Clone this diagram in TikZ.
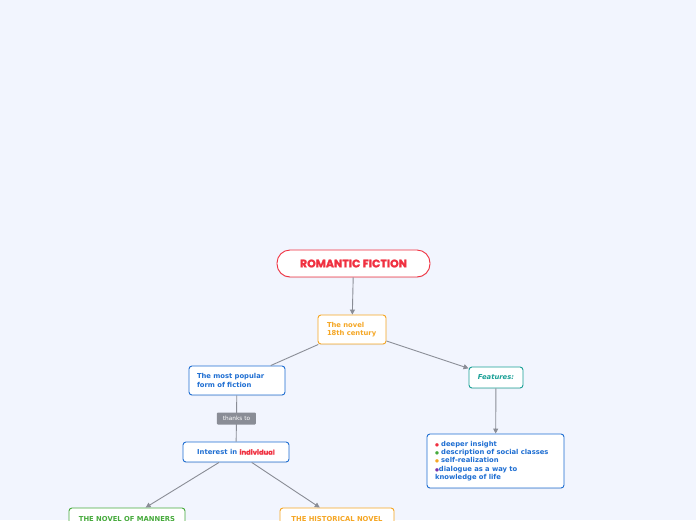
\documentclass[tikz,border=0pt]{standalone}
\usepackage{fontspec}
\setmainfont{DejaVu Sans}
\newfontfamily\titlefont{Poppins}[BoldFeatures={FakeBold=1.6}]
\usetikzlibrary{arrows.meta, shadows}

\definecolor{bgcol}{RGB}{242,245,254}
\definecolor{linkgrey}{RGB}{138,141,150}
\definecolor{mmred}{RGB}{240,48,64}
\definecolor{mmorange}{RGB}{245,166,35}
\definecolor{mmblue}{RGB}{30,110,210}
\definecolor{mmteal}{RGB}{25,160,150}
\definecolor{mmgreen}{RGB}{70,170,60}
\definecolor{mmpurple}{RGB}{120,50,170}

\newcommand{\dotb}[1]{{\color{#1}\fontsize{4.5}{4}\selectfont ●}}

\begin{document}
\begin{tikzpicture}[x=1pt, y=-1pt,
    topic/.style={draw, fill=white, line width=0.9pt, rounded corners=3pt,
        font=\fontsize{6.8}{8.4}\selectfont\bfseries, inner sep=0pt,
        drop shadow={opacity=0.12, shadow xshift=0pt, shadow yshift=-1pt}},
    link/.style={draw=linkgrey, line width=0.9pt},
    arrowlink/.style={link, -{Triangle[length=5pt, width=5pt]}},
    linklabel/.style={fill=linkgrey, text=white, rounded corners=1pt, inner sep=0pt,
        minimum width=39pt, minimum height=12pt, font=\fontsize{5.8}{6}\selectfont}]
    \fill[bgcol] (0,0) rectangle (696,520);
    \useasboundingbox (0,0) rectangle (696,520);
    \clip (0,0) rectangle (696,520);

    \node[topic, draw=mmred, text=mmred, rounded corners=13pt, minimum width=153pt,
        minimum height=27pt, font=\titlefont\fontsize{11}{13}\selectfont\bfseries]
        (title) at (353.5,263.5) {ROMANTIC FICTION};
    \node[topic, draw=mmorange, text=mmorange, minimum width=68pt, minimum height=29pt,
        text width=50pt, align=left] (novel) at (352,329.5) {The novel\\18th century};
    \node[topic, draw=mmblue, text=mmblue, minimum width=96pt, minimum height=29pt,
        text width=80pt, align=left] (popular) at (237,380.5) {The most popular\\form of fiction};
    \node[topic, draw=mmblue, text=mmblue, minimum width=106pt, minimum height=20pt]
        (interest) at (236,452) {Interest in {\color{mmred}\titlefont\bfseries individual}};
    \node[topic, draw=mmteal, text=mmteal, minimum width=54pt, minimum height=21pt,
        font=\fontsize{6.8}{8}\selectfont\bfseries\itshape] (features) at (496,377.5) {Features:};
    \node[topic, draw=mmblue, text=mmblue, minimum width=137pt, minimum height=54pt,
        text width=121pt, align=left] (list) at (495.5,461)
        {\dotb{mmred} deeper insight\\
         \dotb{mmgreen} description of social classes\\
         \dotb{mmorange} self-realization\\
         \dotb{mmpurple}dialogue as a way to\\knowledge of life};
    \node[topic, draw=mmgreen, text=mmgreen, minimum width=116pt, minimum height=22pt]
        (manners) at (127,519) {THE NOVEL OF MANNERS};
    \node[topic, draw=mmorange, text=mmorange, minimum width=114pt, minimum height=22pt]
        (historical) at (337,519) {THE HISTORICAL NOVEL};

    \draw[arrowlink] (title) -- (novel);
    \draw[link] (novel) -- (popular);
    \draw[arrowlink] (novel) -- (features);
    \draw[link] (popular) -- node[linklabel] (thanks) {thanks to} (interest);
    \draw[arrowlink] (interest) -- (manners);
    \draw[arrowlink] (interest) -- (historical);
    \draw[arrowlink] (features) -- (list);
\end{tikzpicture}
\end{document}
